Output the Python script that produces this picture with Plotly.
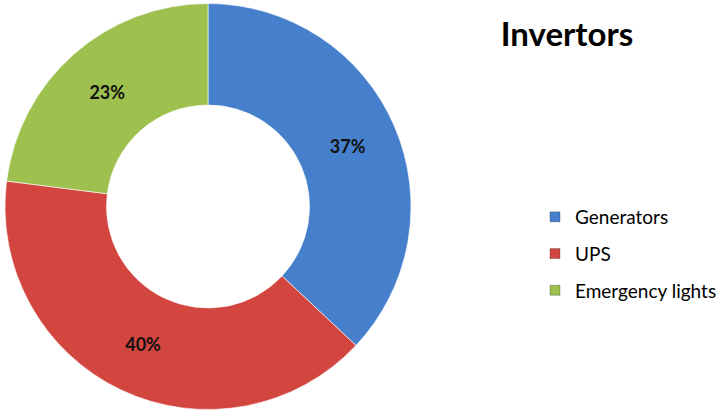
import plotly.graph_objects as go

categories = ["Generators", "UPS", "Emergency lights"]
values = [37, 40, 23]
colors = ["#4680CC", "#D2463F", "#9DC04E"]
title_text = "Invertors"

W, H = 723, 413
fig = go.Figure()

fig.add_trace(go.Pie(
    labels=categories,
    values=values,
    sort=False,
    direction="clockwise",
    rotation=0,
    hole=0.5,
    marker=dict(colors=colors, line=dict(color="rgba(255,255,255,0.6)", width=1)),
    textinfo="percent",
    textposition="inside",
    insidetextorientation="horizontal",
    textfont=dict(family="Lato", size=18, color="#111111", weight="bold"),
    domain=dict(x=[5 / W, 411 / W], y=[0, 1]),
    showlegend=False,
    hoverinfo="label+percent",
))

# legend entries (no data points)
for name, c in zip(categories, colors):
    fig.add_trace(go.Scatter(
        x=[None], y=[None], mode="markers", name=name, legendgroup=name,
        marker=dict(symbol="square", size=10, color=c,
                    line=dict(color="rgba(0,0,0,0.25)", width=1)),
    ))

fig.update_layout(
    width=W, height=H,
    margin=dict(l=0, r=0, t=0, b=0),
    paper_bgcolor="white", plot_bgcolor="white",
    xaxis=dict(visible=False), yaxis=dict(visible=False),
    title=dict(text="<b>" + title_text + "</b>", x=567 / W, xanchor="center",
               y=1 - 34 / H, yanchor="middle",
               font=dict(family="Lato", size=33, color="#000000")),
    legend=dict(x=535 / W, xanchor="left", y=1 - 198 / H, yanchor="top",
                traceorder="grouped", tracegroupgap=9,
                font=dict(family="Lato", size=19, color="#000000"),
                bgcolor="rgba(0,0,0,0)"),
)

fig.write_html("out.html",
               config={"displayModeBar": False},
               post_script="document.body.style.margin='0';document.body.style.padding='0';")
